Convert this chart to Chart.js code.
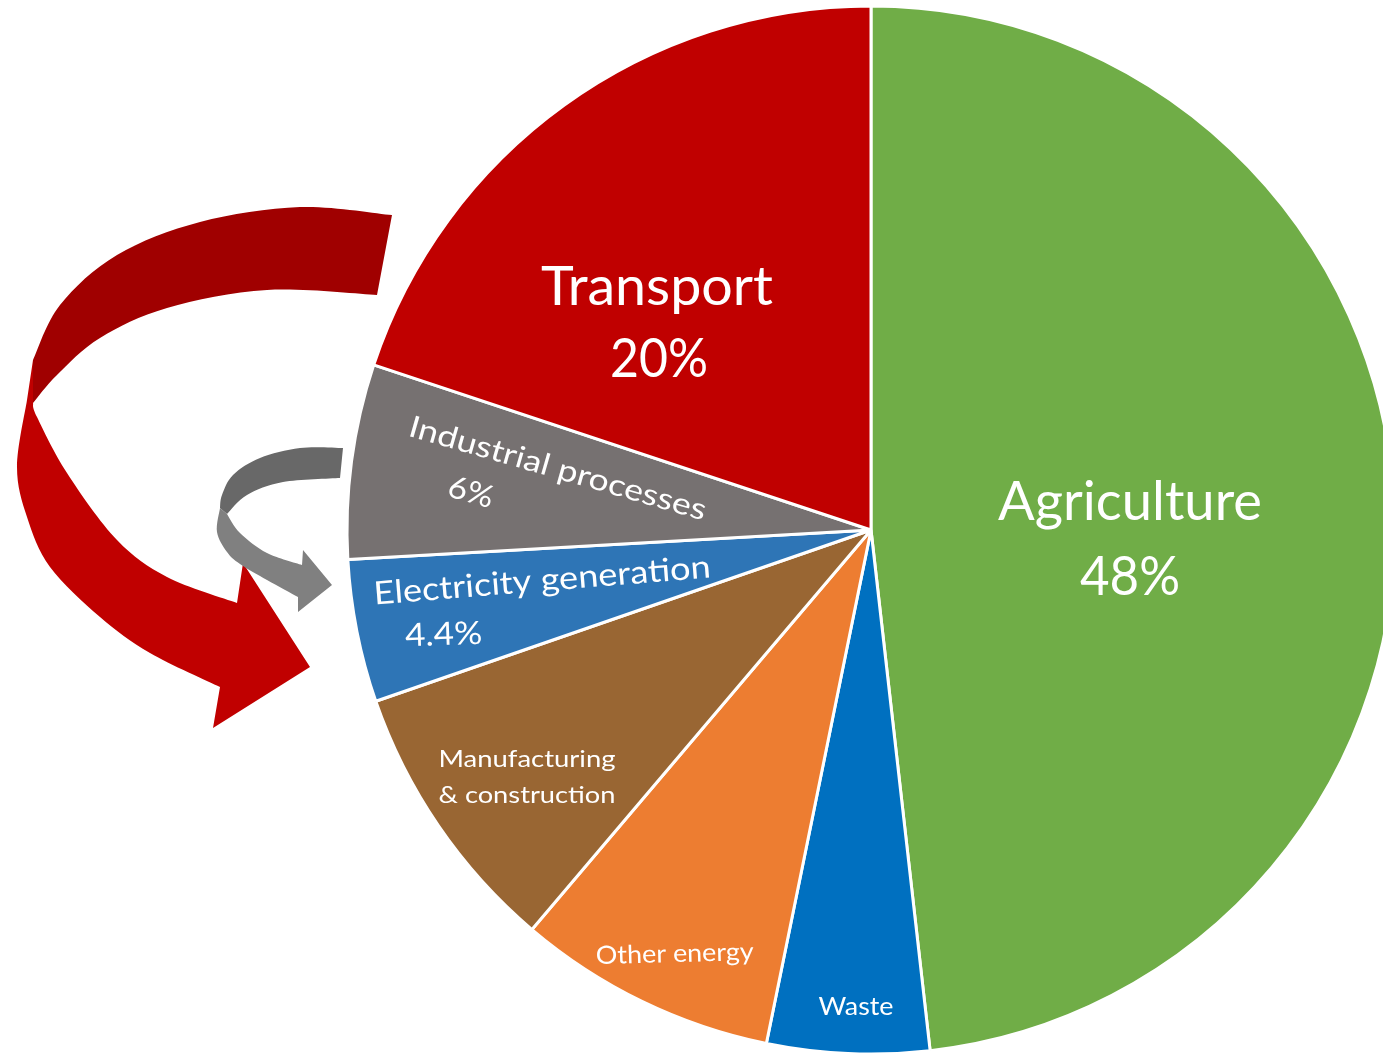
<!DOCTYPE html>
<html>
<head>
<meta charset="utf-8">
<title>Emissions by sector</title>
<script src="https://cdn.jsdelivr.net/npm/chart.js@4.4.1/dist/chart.umd.min.js"></script>
<style>
    html, body { margin: 0; padding: 0; background: #ffffff; overflow: hidden; }
    #wrap { position: absolute; left: 0; top: 0; }
</style>
</head>
<body>
<div id="wrap"><canvas id="sectorChart" width="1742" height="1060"></canvas></div>
<script>
// Data (clockwise from 12 o'clock), slice sizes
const sectors = ['Agriculture', 'Waste', 'Other energy', 'Manufacturing & construction',
    'Electricity generation', 'Industrial processes', 'Transport'];
const shares = [48.2, 5, 8, 8.5, 4.4, 6, 19.9];
const shareLabels = ['48%', '', '', '', '4.4%', '6%', '20%'];
const labelNames = [['Agriculture'], ['Waste'], ['Other energy'], ['Manufacturing', '& construction'],
    ['Electricity generation'], ['Industrial processes'], ['Transport']];

const sectorColors = ['#70AD47', '#0070C0', '#ED7D31', '#996633', '#2E75B6', '#767171', '#C00000'];

// Label placement: offsets from pie centre (baseline centre), font size, target width, rotation (deg)
const labelLayout = [
    [{ dx: 259, dy: -10, size: 54, w: 264, rot: 0 }, { dx: 259, dy: 65, size: 54, w: 100, rot: 0 }],
    [{ dx: -15, dy: 485, size: 25, w: 75, rot: 0 }],
    [{ dx: -196, dy: 432, size: 25, w: 158, rot: -1.5 }],
    [{ dx: -344, dy: 237, size: 24, w: 177, rot: 0 }, { dx: -344, dy: 273, size: 24, w: 177, rot: 0 }],
    [{ dx: -328, dy: 61, size: 32, w: 338, rot: -4.6 }, { dx: -427, dy: 115, size: 32, w: 77, rot: -2 }],
    [{ dx: -316, dy: -52, size: 30, w: 308, rot: 16 }, { dx: -403, dy: -28, size: 31, w: 46, rot: 16 }],
    [{ dx: -214, dy: -225, size: 55, w: 232, rot: 0 }, { dx: -212, dy: -153, size: 55, w: 98, rot: 0 }]
];

// Curved arrow outlines (canvas px)
const redBack = [
    { smooth: [[392, 215], [300, 207], [200, 222], [117, 255], [60, 305], [33, 360]] },
    { line: [[33, 403]] },
    { smooth: [[33, 403], [57, 375], [100, 338], [167, 308], [267, 290], [377, 295]] }
];
const redFront = [
    { line: [[33, 360], [27, 400]] },
    { smooth: [[27, 400], [17, 467], [27, 517], [50, 567], [100, 617], [150, 653], [220, 687]] },
    { line: [[213, 728], [310, 667], [243, 563], [237, 603]] },
    { smooth: [[237, 603], [167, 577], [117, 540], [67, 473], [37, 417], [33, 403]] }
];
const greyBack = [
    { smooth: [[343, 448], [300, 448], [260, 458], [233, 475], [222, 495], [220, 508]] },
    { line: [[227, 514]] },
    { smooth: [[227, 514], [247, 495], [283, 482], [340, 478]] }
];
const greyFront = [
    { smooth: [[220, 508], [217, 532], [227, 552], [240, 564], [267, 580], [298, 597]] },
    { line: [[298, 612], [332, 585], [303, 550], [302, 565]] },
    { smooth: [[302, 565], [267, 553], [240, 533], [227, 514]] }
];

function splineTo(ctx, pts) {
    for (let i = 0; i < pts.length - 1; i++) {
        const p0 = pts[i - 1] || pts[i];
        const p1 = pts[i];
        const p2 = pts[i + 1];
        const p3 = pts[i + 2] || p2;
        ctx.bezierCurveTo(
            p1[0] + (p2[0] - p0[0]) / 6, p1[1] + (p2[1] - p0[1]) / 6,
            p2[0] - (p3[0] - p1[0]) / 6, p2[1] - (p3[1] - p1[1]) / 6,
            p2[0], p2[1]
        );
    }
}

function fillShape(ctx, parts, color) {
    ctx.beginPath();
    const start = (parts[0].smooth || parts[0].line)[0];
    ctx.moveTo(start[0], start[1]);
    parts.forEach(function (part) {
        if (part.smooth) {
            splineTo(ctx, part.smooth);
        } else {
            part.line.forEach(function (p) { ctx.lineTo(p[0], p[1]); });
        }
    });
    ctx.closePath();
    ctx.fillStyle = color;
    ctx.fill();
}

const FONT = 'Lato, "Open Sans", sans-serif';

const sliceLabels = {
    id: 'sliceLabels',
    afterDatasetsDraw(chart) {
        const ctx = chart.ctx;
        const arcs = chart.getDatasetMeta(0).data;
        ctx.save();
        ctx.fillStyle = '#ffffff';
        ctx.textAlign = 'center';
        ctx.textBaseline = 'alphabetic';
        arcs.forEach(function (arc, i) {
            const lines = labelNames[i].slice();
            if (shareLabels[i]) lines.push(shareLabels[i]);
            lines.forEach(function (text, j) {
                const lay = labelLayout[i][j];
                ctx.font = lay.size + 'px ' + FONT;
                const sx = lay.w / ctx.measureText(text).width;
                ctx.save();
                ctx.translate(arc.x + lay.dx, arc.y + lay.dy);
                ctx.rotate(lay.rot * Math.PI / 180);
                ctx.scale(sx, 1);
                ctx.fillText(text, 0, 0);
                ctx.restore();
            });
        });
        ctx.restore();
    }
};

const arrows = {
    id: 'arrows',
    afterDraw(chart) {
        const ctx = chart.ctx;
        ctx.save();
        fillShape(ctx, redBack, '#A00000');
        fillShape(ctx, redFront, '#C00000');
        fillShape(ctx, greyBack, '#686868');
        fillShape(ctx, greyFront, '#808080');
        ctx.restore();
    }
};

const ctxSectors = document.getElementById('sectorChart').getContext('2d');
new Chart(ctxSectors, {
    type: 'pie',
    data: {
        labels: sectors,
        datasets: [{
            data: shares,
            backgroundColor: sectorColors,
            borderColor: '#ffffff',
            borderWidth: 3
        }]
    },
    options: {
        responsive: false,
        animation: false,
        devicePixelRatio: 1,
        radius: 524,
        layout: { padding: 0 },
        events: [],
        plugins: {
            legend: { display: false },
            tooltip: { enabled: false }
        }
    },
    plugins: [sliceLabels, arrows]
});
</script>
</body>
</html>
